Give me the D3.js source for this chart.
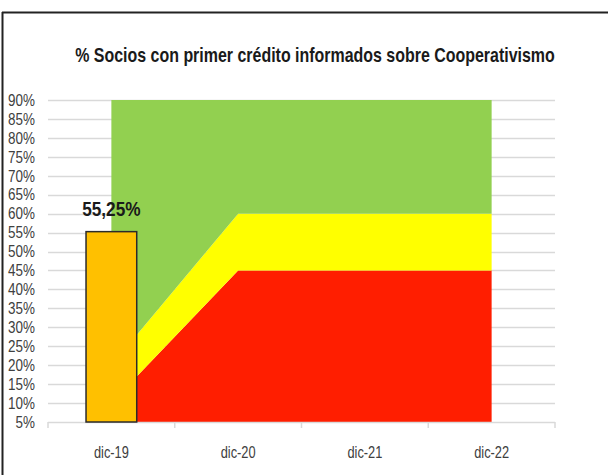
<!DOCTYPE html>
<html>
<head>
<meta charset="utf-8">
<script src="https://cdn.jsdelivr.net/npm/d3@7"></script>
<style>
  html, body { margin: 0; padding: 0; background: #fff; }
  svg { display: block; }
  text { font-family: "Liberation Sans", Arial, sans-serif; }
</style>
</head>
<body>
<svg id="chart" width="608" height="475"></svg>
<script>
const title = "% Socios con primer crédito informados sobre Cooperativismo";
const categories = ["dic-19", "dic-20", "dic-21", "dic-22"];
// stacked target bands (each value is the band thickness, in %)
const redBand = [10, 45, 45, 45];
const yellowBand = [10, 15, 15, 15];
const greenBand = [70, 30, 30, 30];
// actual result (bar), only for dic-19
const barValues = [55.25, null, null, null];
const barLabels = ["55,25%", "", "", ""];
const yTicks = [5, 10, 15, 20, 25, 30, 35, 40, 45, 50, 55, 60, 65, 70, 75, 80, 85, 90];

const svg = d3.select("#chart");
const W = 608, H = 475;
const m = { left: 48, right: 53, top: 100, bottom: 53 };
const x = d3.scaleBand().domain(categories).range([m.left, W - m.right]).padding(0);
const y = d3.scaleLinear().domain([5, 90]).range([H - m.bottom, m.top]);

// condense text horizontally to mimic a narrow font
function condense(sel, factor) {
  sel.each(function () {
    const len = this.getComputedTextLength();
    if (len > 0) {
      d3.select(this).attr("textLength", len * factor).attr("lengthAdjust", "spacingAndGlyphs");
    }
  });
}

// outer frame (top and left edges visible)
svg.append("line").attr("x1", 2).attr("x2", W).attr("y1", 12.5).attr("y2", 12.5)
  .attr("stroke", "#222").attr("stroke-width", 2);
svg.append("line").attr("x1", 2.5).attr("x2", 2.5).attr("y1", 12).attr("y2", H)
  .attr("stroke", "#222").attr("stroke-width", 2);

// title (scaled horizontally with a transform to fit its width in the reference)
const tg = svg.append("g");
const tt = tg.append("text").attr("x", 0).attr("y", 0).attr("text-anchor", "middle")
  .attr("font-size", 20).attr("font-weight", "bold").attr("fill", "#1a1a1a").text(title);
const tlen = tt.node().getComputedTextLength();
tg.attr("transform", `translate(315,62) scale(${480 / tlen},1)`);

// gridlines
svg.append("g").selectAll("line").data(yTicks.filter(d => d > 5)).join("line")
  .attr("x1", m.left).attr("x2", W - m.right)
  .attr("y1", d => Math.round(y(d)) + 0.5).attr("y2", d => Math.round(y(d)) + 0.5)
  .attr("stroke", "#d9d9d9").attr("stroke-width", 1.5);

// y labels
svg.append("g").selectAll("text").data(yTicks).join("text")
  .attr("x", 35).attr("y", d => y(d)).attr("dy", "0.36em").attr("text-anchor", "end")
  .attr("font-size", 16).attr("fill", "#404040").text(d => d + "%")
  .call(condense, 0.84);

// clip for areas
svg.append("clipPath").attr("id", "plotclip").append("rect")
  .attr("x", m.left).attr("y", m.top).attr("width", W - m.left - m.right).attr("height", H - m.top - m.bottom);

const rows = categories.map((c, i) => ({ cat: c, red: redBand[i], yellow: yellowBand[i], green: greenBand[i] }));
const stack = d3.stack().keys(["red", "yellow", "green"]);
const series = stack(rows);
const colors = { red: "#ff1e00", yellow: "#ffff00", green: "#92d050" };
const cx = d => x(d.data.cat) + x.bandwidth() / 2;
const area = d3.area().x(cx).y0(d => y(d[0])).y1(d => y(d[1]));

svg.append("g").attr("clip-path", "url(#plotclip)").selectAll("path").data(series).join("path")
  .attr("d", area).attr("fill", s => colors[s.key]);

// x axis
const xAxis = svg.append("g").attr("transform", `translate(0,${y(5)})`);
xAxis.append("line").attr("x1", m.left).attr("x2", W - m.right).attr("y1", 0.5).attr("y2", 0.5)
  .attr("stroke", "#d9d9d9").attr("stroke-width", 1.5);
const bounds = categories.map(c => x(c)).concat([x(categories[categories.length - 1]) + x.bandwidth()]);
xAxis.selectAll("line.tk").data(bounds).join("line").attr("class", "tk")
  .attr("x1", d => d).attr("x2", d => d).attr("y1", 0).attr("y2", 6)
  .attr("stroke", "#d9d9d9").attr("stroke-width", 1.5);
xAxis.selectAll("text").data(categories).join("text")
  .attr("x", d => x(d) + x.bandwidth() / 2).attr("y", 36).attr("text-anchor", "middle")
  .attr("font-size", 16).attr("fill", "#404040").text(d => d)
  .call(condense, 0.8);

// bars
const barW = x.bandwidth() * 0.4;
const barData = categories.map((c, i) => ({ cat: c, v: barValues[i], label: barLabels[i] })).filter(d => d.v != null);
svg.append("g").selectAll("rect").data(barData).join("rect")
  .attr("x", d => x(d.cat) + x.bandwidth() / 2 - barW / 2)
  .attr("y", d => y(d.v)).attr("width", barW).attr("height", d => y(5) - y(d.v))
  .attr("fill", "#ffc000").attr("stroke", "#2b2b2b").attr("stroke-width", 1.5);
svg.append("g").selectAll("text").data(barData).join("text")
  .attr("x", d => x(d.cat) + x.bandwidth() / 2).attr("y", d => y(d.v) - 16)
  .attr("text-anchor", "middle").attr("font-size", 21).attr("font-weight", "bold")
  .attr("fill", "#1a1a1a").text(d => d.label)
  .call(condense, 0.82);
</script>
</body>
</html>
